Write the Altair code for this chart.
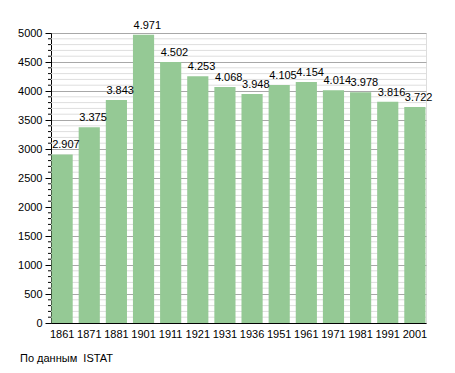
import altair as alt
import pandas as pd

years = ["1861", "1871", "1881", "1901", "1911", "1921", "1931", "1936",
         "1951", "1961", "1971", "1981", "1991", "2001"]
population = [2907, 3375, 3843, 4971, 4502, 4253, 4068, 3948,
              4105, 4154, 4014, 3978, 3816, 3722]
source_note = "По данным\u00a0 ISTAT"
major_vals = list(range(0, 5001, 500))
minor_vals = [v for v in range(0, 5001, 100) if v % 500 != 0]

df = pd.DataFrame({"year": years, "pop": population})
df_minor = pd.DataFrame({"v": minor_vals})

FONT = "Liberation Sans"
yscale = alt.Scale(domain=[0, 5000], nice=False)
yaxis = alt.Axis(values=major_vals, labelOverlap=False, format="d",
                 gridColor="#a8a8a8", tickSize=6,
                 tickColor="#000000", domainColor="#000000",
                 labelColor="#000000", labelFont=FONT, labelFontSize=11,
                 labelPadding=3)

minor_grid = alt.Chart(df_minor).mark_rule(color="#dedede", strokeWidth=1).encode(
    y=alt.Y("v:Q", scale=yscale, title=None, axis=yaxis))
minor_ticks = alt.Chart(df_minor).mark_rule(color="#000000", strokeWidth=1).encode(
    y=alt.Y("v:Q", scale=yscale, title=None, axis=yaxis), x=alt.value(-3), x2=alt.value(0))

x = alt.X("year:N", sort=years, title=None,
          scale=alt.Scale(paddingInner=0.22, paddingOuter=0.02),
          axis=alt.Axis(labelAngle=0, ticks=False, labelPadding=5,
                        domainColor="#000000", labelColor="#000000",
                        labelFont=FONT, labelFontSize=11))

bars = alt.Chart(df).mark_bar(color="#95c995").encode(
    x=x, y=alt.Y("pop:Q", scale=yscale, title=None, axis=yaxis))
labels = alt.Chart(df).transform_calculate(
    lbl="replace(format(datum.pop, ','), ',', '.')"
).mark_text(baseline="bottom", align="left", dy=-4, dx=-10, font=FONT, fontSize=11,
            color="#000000").encode(
    x=alt.X("year:N", sort=years), y=alt.Y("pop:Q", scale=yscale, title=None, axis=yaxis),
    text="lbl:N")

chart = alt.layer(minor_grid, bars, minor_ticks, labels).properties(
    width=375, height=290,
    title=alt.TitleParams(source_note, orient="bottom", anchor="start", frame="group",
                          dx=-31, offset=14, font=FONT, fontSize=11, fontWeight="normal",
                          color="#000000"),
    autosize=alt.AutoSizeParams(type="none"),
    padding={"left": 43, "top": 25, "right": 20, "bottom": 45},
).configure_view(stroke=None).configure(background="#ffffff")

chart.save("out.html", embed_options={"renderer": "svg", "actions": False})
